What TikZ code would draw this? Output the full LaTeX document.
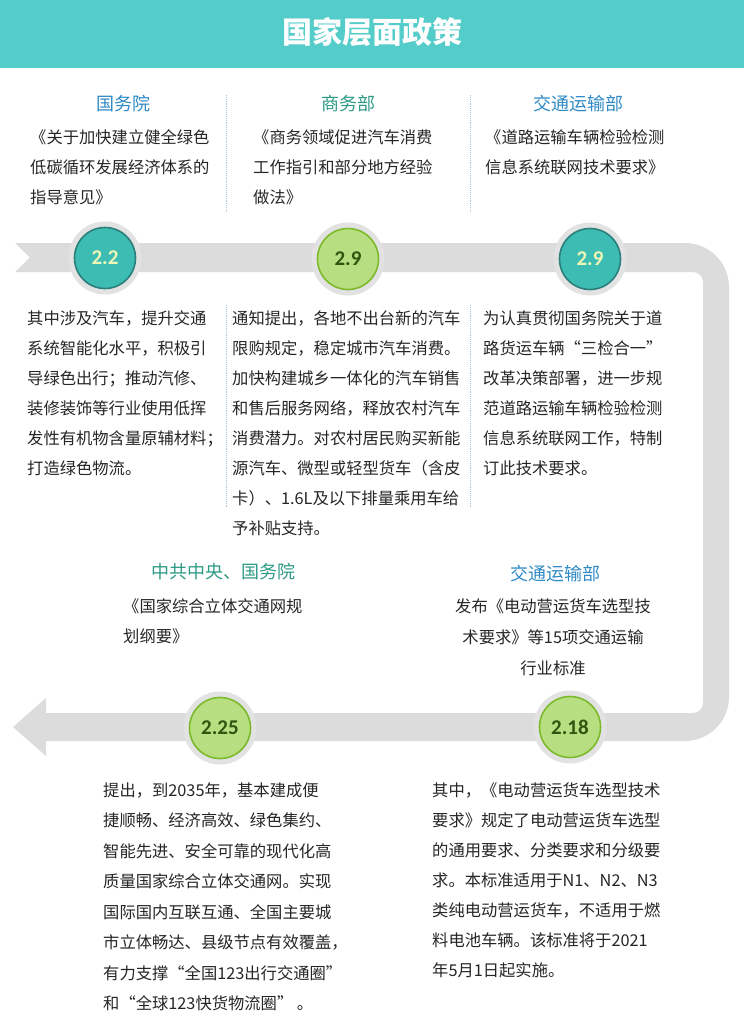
\documentclass[tikz,border=0pt]{standalone}
\usepackage{fontspec}
\setmainfont{Noto Sans CJK SC}
\newfontfamily\numfont{Carlito}
\definecolor{headteal}{HTML}{53CCCA}
\definecolor{bandgray}{HTML}{DCDCDC}
\definecolor{ringgray}{HTML}{E2E2E2}
\definecolor{tealfill}{HTML}{3DBCB3}
\definecolor{tealedge}{HTML}{2A7F7A}
\definecolor{tealtext}{HTML}{EEF7B5}
\definecolor{greenfill}{HTML}{B7DE80}
\definecolor{greenedge}{HTML}{7CBA2C}
\definecolor{greentext}{HTML}{2F5610}
\definecolor{bodytext}{HTML}{262626}
\definecolor{headblue}{HTML}{2F8AC6}
\definecolor{headgreen}{HTML}{2E9A86}
\definecolor{sepblue}{HTML}{A9C7DE}
\tikzset{
  band/.style={fill=bandgray},
  ring/.style={circle, fill=ringgray, minimum size=73pt, inner sep=0pt},
  dotbase/.style={circle, line width=1.6pt, minimum size=61pt, inner sep=0pt,
    font=\numfont\bfseries\fontsize{21}{21}\selectfont},
  tealdot/.style={dotbase, fill=tealfill, draw=tealedge, text=tealtext},
  greendot/.style={dotbase, fill=greenfill, draw=greenedge, text=greentext},
  body/.style={font=\fontsize{16.3}{20}\selectfont, text=bodytext, inner sep=0pt},
  headtxt/.style={font=\fontsize{18}{20}\selectfont, inner sep=0pt, anchor=base},
  sepline/.style={draw=sepblue, densely dotted, line width=0.9pt},
}
\newcommand\txtlines[6]{%
  \foreach \t [count=\i] in {#6} {\node[body, anchor=#2] (#1\i) at (#3, {#4+(\i-1)*#5}) {\t};}}
\begin{document}
\begin{tikzpicture}[x=1pt, y=-1pt]
\useasboundingbox (0,0) rectangle (744,1030);
\fill[white] (0,0) rectangle (744,1030);
% header
\fill[headteal] (0,0) rectangle (744,68);
\node[text=white, font=\bfseries\fontsize{30}{30}\selectfont, inner sep=0pt, anchor=base] (title) at (372,44) {国家层面政策};
% gray band
\fill[band] (15,243) -- (685,243) .. controls (709.3,243) and (729,262.7) .. (729,287)
  -- (729,697) .. controls (729,721.3) and (709.3,741) .. (685,741)
  -- (46,741) -- (46,756) -- (13,727) -- (46,698) -- (46,713)
  -- (693,713) .. controls (698.5,713) and (703,708.5) .. (703,703)
  -- (703,282) .. controls (703,276.5) and (698.5,272) .. (693,272)
  -- (15,272) -- (30,257.5) -- cycle;
% circles
\node[ring] (r1) at (105,258) {};
\node[ring] (r2) at (348,259) {};
\node[ring] (r3) at (590,259) {};
\node[ring] (r4) at (220,728) {};
\node[ring] (r5) at (570,727) {};
\node[tealdot] (d1) at (r1) {2.2};
\node[greendot] (d2) at (r2) {2.9};
\node[tealdot] (d3) at (r3) {2.9};
\node[greendot] (d4) at (r4) {2.25};
\node[greendot] (d5) at (r5) {2.18};
% separators
\coordinate (s1a) at (226,95); \coordinate (s1b) at (226,212);
\coordinate (s2a) at (470,95); \coordinate (s2b) at (470,212);
\coordinate (s3a) at (226,305); \coordinate (s3b) at (226,508);
\coordinate (s4a) at (470,305); \coordinate (s4b) at (470,508);
\draw[sepline] (s1a) -- (s1b);
\draw[sepline] (s2a) -- (s2b);
\draw[sepline] (s3a) -- (s3b);
\draw[sepline] (s4a) -- (s4b);
% headings
\node[headtxt, text=headblue] (h1) at (123,111) {国务院};
\node[headtxt, text=headgreen] (h2) at (348,111) {商务部};
\node[headtxt, text=headblue] (h3) at (578,111) {交通运输部};
\node[headtxt, text=headgreen] (h4) at (223,578) {中共中央、国务院};
\node[headtxt, text=headblue] (h5) at (555,580) {交通运输部};
% top text
\txtlines{a}{base west}{30}{143}{30}{《关于加快建立健全绿色,低碳循环发展经济体系的,指导意见》}
\txtlines{b}{base west}{253}{143}{30}{《商务领域促进汽车消费,工作指引和部分地方经验,做法》}
\txtlines{c}{base west}{485}{143}{30}{《道路运输车辆检验检测,信息系统联网技术要求》}
% lower text row 1
\txtlines{e}{base west}{27}{324}{30}{其中涉及汽车，提升交通,系统智能化水平，积极引,导绿色出行；推动汽修、,装修装饰等行业使用低挥,发性有机物含量原辅材料；,打造绿色物流。}
\txtlines{f}{base west}{232}{324}{30}{通知提出，各地不出台新的汽车,限购规定，稳定城市汽车消费。,加快构建城乡一体化的汽车销售,和售后服务网络，释放农村汽车,消费潜力。对农村居民购买新能,源汽车、微型或轻型货车（含皮,卡）、1.6L及以下排量乘用车给,予补贴支持。}
\txtlines{g}{base west}{483}{324}{30}{为认真贯彻国务院关于道,路货运车辆“三检合一”,改革决策部署，进一步规,范道路运输车辆检验检测,信息系统联网工作，特制,订此技术要求。}
% row 2
\txtlines{k}{base west}{123}{612}{30}{《国家综合立体交通网规,划纲要》}
\txtlines{m}{base}{553}{612}{31}{发布《电动营运货车选型技,术要求》等15项交通运输,行业标准}
% bottom text
\txtlines{p}{base west}{103}{796}{30.5}{提出，到2035年，基本建成便,捷顺畅、经济高效、绿色集约、,智能先进、安全可靠的现代化高,质量国家综合立体交通网。实现,国际国内互联互通、全国主要城,市立体畅达、县级节点有效覆盖，,有力支撑“全国123出行交通圈”,和“全球123快货物流圈” 。}
\txtlines{q}{base west}{432}{796}{30}{其中，《电动营运货车选型技术,要求》规定了电动营运货车选型,的通用要求、分类要求和分级要,求。本标准适用于N1、N2、N3,类纯电动营运货车，不适用于燃,料电池车辆。该标准将于2021,年5月1日起实施。}
\end{tikzpicture}
\end{document}
